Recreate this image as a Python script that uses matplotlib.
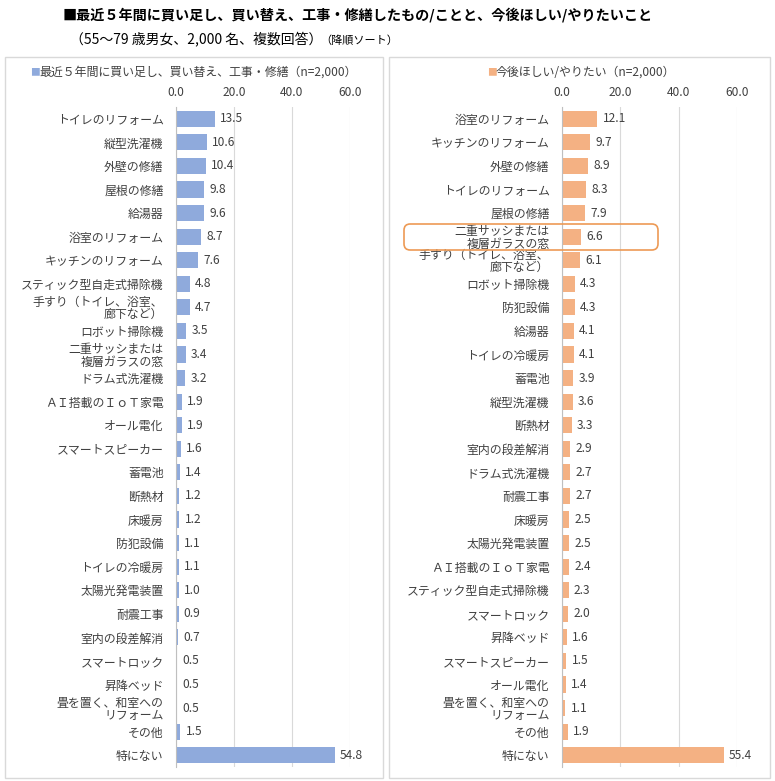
import matplotlib.pyplot as plt
from matplotlib.patches import Rectangle, FancyBboxPatch

plt.rcParams['font.family'] = ['Noto Sans CJK JP', 'DejaVu Sans']

left_labels = ['トイレのリフォーム', '縦型洗濯機', '外壁の修繕', '屋根の修繕', '給湯器',
               '浴室のリフォーム', 'キッチンのリフォーム', 'スティック型自走式掃除機',
               '手すり（トイレ、浴室、\n廊下など）', 'ロボット掃除機', '二重サッシまたは\n複層ガラスの窓',
               'ドラム式洗濯機', 'ＡＩ搭載のＩｏＴ家電', 'オール電化', 'スマートスピーカー',
               '蓄電池', '断熱材', '床暖房', '防犯設備', 'トイレの冷暖房', '太陽光発電装置',
               '耐震工事', '室内の段差解消', 'スマートロック', '昇降ベッド',
               '畳を置く、和室への\nリフォーム', 'その他', '特にない']
left_values = [13.5, 10.6, 10.4, 9.8, 9.6, 8.7, 7.6, 4.8, 4.7, 3.5, 3.4, 3.2, 1.9, 1.9,
               1.6, 1.4, 1.2, 1.2, 1.1, 1.1, 1.0, 0.9, 0.7, 0.5, 0.5, 0.5, 1.5, 54.8]

right_labels = ['浴室のリフォーム', 'キッチンのリフォーム', '外壁の修繕', 'トイレのリフォーム',
                '屋根の修繕', '二重サッシまたは\n複層ガラスの窓', '手すり（トイレ、浴室、\n廊下など）',
                'ロボット掃除機', '防犯設備', '給湯器', 'トイレの冷暖房', '蓄電池', '縦型洗濯機',
                '断熱材', '室内の段差解消', 'ドラム式洗濯機', '耐震工事', '床暖房', '太陽光発電装置',
                'ＡＩ搭載のＩｏＴ家電', 'スティック型自走式掃除機', 'スマートロック', '昇降ベッド',
                'スマートスピーカー', 'オール電化', '畳を置く、和室への\nリフォーム', 'その他', '特にない']
right_values = [12.1, 9.7, 8.9, 8.3, 7.9, 6.6, 6.1, 4.3, 4.3, 4.1, 4.1, 3.9, 3.6, 3.3,
                2.9, 2.7, 2.7, 2.5, 2.5, 2.4, 2.3, 2.0, 1.6, 1.5, 1.4, 1.1, 1.9, 55.4]

ticks = [0, 20, 40, 60]
blue = '#8faadc'
orange = '#f4b183'
txt = '#404040'

W, H = 775, 781
fig = plt.figure(figsize=(W / 100, H / 100), dpi=100)


def fx(px):
    return px / W


def fy(py):
    return 1 - py / H


# panel frames
for x0, x1 in [(5, 383), (389, 770)]:
    fig.add_artist(Rectangle((fx(x0), fy(778)), fx(x1 - x0), (778 - 57) / H,
                             transform=fig.transFigure, fill=False,
                             edgecolor='#d9d9d9', linewidth=1))

fig.text(fx(63), fy(15), '■最近５年間に買い足し、買い替え、工事・修繕したもの/ことと、今後ほしい/やりたいこと',
         fontsize=10.2, fontweight='bold', va='center', ha='left')
fig.text(fx(70), fy(40), '（55～79 歳男女、2,000 名、複数回答）', fontsize=10, va='center', ha='left')
fig.text(fx(320), fy(41), '（降順ソート）', fontsize=8, va='center', ha='left')


def panel(x0, x1, labels, values, color, legend, legend_x):
    ax = fig.add_axes([fx(x0), fy(767), fx(x1 - x0), (767 - 107) / H])
    y = list(range(len(values)))
    ax.barh(y, values, height=0.68, color=color, zorder=3)
    ax.set_xlim(0, 60)
    ax.set_ylim(len(values) - 0.5, -0.5)
    ax.set_yticks(y)
    ax.set_yticklabels(labels, fontsize=8.6, linespacing=0.95, color=txt)
    ax.set_xticks(ticks)
    ax.set_xticklabels([f'{t:.1f}' for t in ticks], fontsize=8.6, color=txt)
    ax.xaxis.tick_top()
    ax.tick_params(length=0, pad=6)
    ax.tick_params(axis='y', pad=9)
    ax.grid(axis='x', color='#d9d9d9', linewidth=0.8, zorder=0)
    for s in ['top', 'right', 'bottom']:
        ax.spines[s].set_visible(False)
    ax.spines['left'].set_color('#bfbfbf')
    ax.spines['left'].set_zorder(4)
    for yi, v in zip(y, values):
        ax.text(v + 1.8, yi, f'{v:.1f}', va='center', ha='left', fontsize=8.6,
                color=txt, clip_on=False)
    fig.text(fx(legend_x), fy(72), '■', color=color, fontsize=7, va='center', ha='left')
    fig.text(fx(legend_x + 9), fy(72), legend, fontsize=8.6, va='center', ha='left', color=txt)
    return ax


panel(176, 350, left_labels, left_values, blue,
      '最近５年間に買い足し、買い替え、工事・修繕（n=2,000）', 30)
panel(562, 737, right_labels, right_values, orange,
      '今後ほしい/やりたい（n=2,000）', 487)

# highlight box around the double-glazed window row
fig.add_artist(FancyBboxPatch((fx(404), fy(250)), fx(254), (250 - 224) / H,
                              boxstyle='round,pad=0,rounding_size=0.008',
                              transform=fig.transFigure, fill=False,
                              edgecolor='#ed9a55', linewidth=1.2))

fig.savefig('out.png', dpi=100)
